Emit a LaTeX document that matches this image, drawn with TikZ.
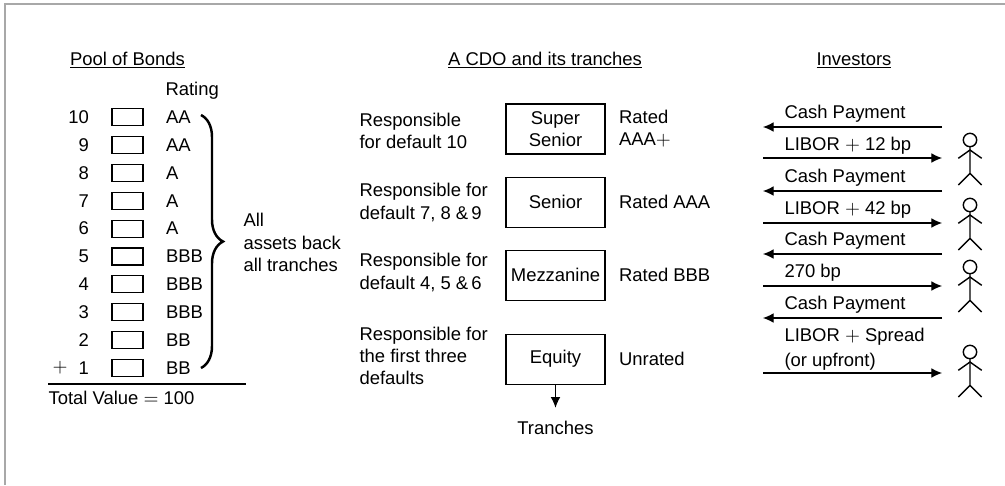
\documentclass[tikz,border=0pt]{standalone}
\usepackage{fontspec}
\setmainfont{Liberation Sans}
\usetikzlibrary{positioning,arrows.meta,decorations.pathreplacing}
\definecolor{framegray}{HTML}{A8A8A8}
\begin{document}
\begin{tikzpicture}[x=0.02cm,y=-0.02cm,line width=0.6pt,>={Latex[length=6pt,width=5.5pt]}]
\tikzset{
  every node/.style={font=\fontsize{10.5}{12.6}\selectfont},
  txt/.style={inner sep=0,align=left},
  bond/.style={draw,minimum width=0.62cm,minimum height=0.34cm,inner sep=0},
  tranche/.style={draw,align=center,minimum width=1.98cm,minimum height=1cm,inner sep=0},
  investor/.pic={
    \draw[line width=0.8pt] (0,0) circle[radius=0.134cm];
    \draw[line width=0.8pt] (0,6.7) -- (0,33.3) -- (-11.7,45) (0,33.3) -- (11.7,45);
    \draw[line width=0.8pt] (-11.7,18.3) -- (0,10) -- (11.7,18.3);
  }
}
\useasboundingbox (0,0) rectangle (1005,485);
\draw[framegray,line width=1.6pt] (5,485) -- (5,4) -- (1005,4);
% pool of bonds
\node[txt,anchor=base] (pool) at (127.5,65) {\underline{Pool of Bonds}};
\node[txt,anchor=base west] (rating) at (165,95.5) {Rating};
\foreach \n/\r in {10/AA,9/AA,8/A,7/A,6/A,5/BBB,4/BBB,3/BBB,2/BB,1/BB} {
  \node[bond] (bond\n) at (127.5,{117+(10-\n)*27.9}) {};
  \node[txt,left=0.44cm of bond\n] (num\n) {\n};
  \node[txt,right=0.44cm of bond\n] (rate\n) {\r};
}
\node[txt,left=0.2cm of num1] (plus) {$+$};
\coordinate (bracetop) at (201,115);
\coordinate (bracebot) at (201,368);
\draw[decorate,decoration={brace,amplitude=0.44cm},line width=1.4pt] (bracetop) -- (bracebot);
\node[txt,anchor=west] (back) at (243,242.5) {All\\assets back\\all tranches};
\draw (48,384) -- (246,384);
\node[txt,anchor=base west] (total) at (48,404) {Total Value $=$ 100};
% the CDO
\node[txt,anchor=base] (cdo) at (545,65) {\underline{A CDO and its tranches}};
\node[tranche] (ss) at (555.5,129) {Super\\Senior};
\node[tranche,below=0.44cm of ss] (sen) {Senior};
\node[tranche,below=0.44cm of sen] (mez) {Mezzanine};
\node[tranche,below=0.66cm of mez] (eq) {Equity};
\node[txt,anchor=west] (ssl) at (359,131) {Responsible\\for default 10};
\node[txt,anchor=west] (senl) at (359,202.5) {Responsible for\\default 7, 8 \&\,9};
\node[txt,anchor=west] (mezl) at (359,272.5) {Responsible for\\default 4, 5 \&\,6};
\node[txt,anchor=west] (eql) at (359,356) {Responsible for\\the first three\\defaults};
\node[txt,right=0.26cm of ss] (ssr) {Rated\\AAA$+$};
\node[txt,right=0.26cm of sen] (senr) {Rated AAA};
\node[txt,right=0.26cm of mez] (mezr) {Rated BBB};
\node[txt,right=0.26cm of eq] (eqr) {Unrated};
\node[txt] (tr) at (555.5,428) {Tranches};
\draw[->,shorten >=0.26cm] (eq) -- (tr);
% investors
\node[txt,anchor=base] (inv) at (854,65) {\underline{Investors}};
\foreach \i/\y in {1/127,2/191,3/254,4/318} {
  \coordinate (paid\i) at (942,\y);
  \coordinate (cash\i) at (763,\y);
  \draw[->] (paid\i) -- (cash\i);
  \node[txt,anchor=base west] (cashlab\i) at (784,{\y-9}) {Cash Payment};
}
\foreach \i/\y in {1/158,2/223,3/286,4/373} {
  \coordinate (from\i) at (763,\y);
  \coordinate (to\i) at (942,\y);
  \draw[->] (from\i) -- (to\i);
}
\node[txt,anchor=base west] (ret1) at (784,150) {LIBOR $+$ 12 bp};
\node[txt,anchor=base west] (ret2) at (784,214) {LIBOR $+$ 42 bp};
\node[txt,anchor=base west] (ret3) at (784,277) {270 bp};
\node[txt,anchor=base west] (ret4) at (784,341) {LIBOR $+$ Spread};
\node[txt,anchor=base west] (ret4b) at (784,366) {(or upfront)};
\pic (inv1) at (970,140) {investor};
\pic (inv2) at (970,205) {investor};
\pic (inv3) at (970,267) {investor};
\pic (inv4) at (970,352) {investor};
\end{tikzpicture}
\end{document}
